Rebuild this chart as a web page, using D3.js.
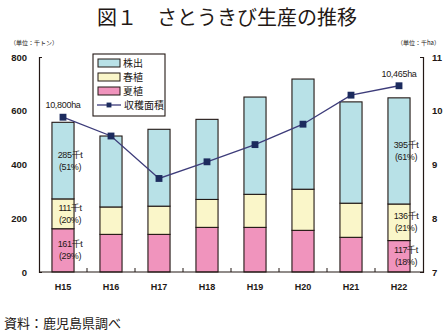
<!DOCTYPE html>
<html>
<head>
<meta charset="utf-8">
<script src="https://cdn.jsdelivr.net/npm/d3@7"></script>
<style>
  body { margin: 0; background: #fff; }
  svg { display: block; }
  text { font-family: "Liberation Sans", Arial, sans-serif; fill: #231815; }
  .jp { font-family: "Noto Sans CJK JP", sans-serif; }
</style>
</head>
<body>
<div id="chart"></div>
<script>
// data
var years = ["H15", "H16", "H17", "H18", "H19", "H20", "H21", "H22"];
var natsu = [161, 140, 140, 166, 166, 155, 129, 117];   // 夏植 (千t)
var haru  = [111, 102, 105, 104, 123, 153, 127, 136];   // 春植 (千t)
var kabu  = [285, 264, 286, 298, 362, 410, 377, 395];   // 株出 (千t)
var area  = [9.88, 9.53, 8.74, 9.05, 9.37, 9.75, 10.29, 10.465]; // 収穫面積 (千ha)
var leftTicks = [0, 200, 400, 600, 800];
var rightTicks = [7, 8, 9, 10, 11];

var seriesKeys = ["natsu", "haru", "kabu"];
var seriesNames = {natsu: "夏植", haru: "春植", kabu: "株出"};
var colors = {natsu: "#f094bd", haru: "#faf6c9", kabu: "#b8e1e7"};

// in-bar labels only on first and last bar
var barLabels = [
  {i: 0, key: "kabu", t1: "285千t", t2: "(51%)"},
  {i: 0, key: "haru", t1: "111千t", t2: "(20%)"},
  {i: 0, key: "natsu", t1: "161千t", t2: "(29%)"},
  {i: 7, key: "kabu", t1: "395千t", t2: "(61%)"},
  {i: 7, key: "haru", t1: "136千t", t2: "(21%)"},
  {i: 7, key: "natsu", t1: "117千t", t2: "(18%)"}
];
var areaLabels = [{i: 0, t: "10,800ha"}, {i: 7, t: "10,465ha"}];

var table = years.map(function(y, i) {
  return {year: y, natsu: natsu[i], haru: haru[i], kabu: kabu[i], area: area[i]};
});

var svg = d3.select("#chart").append("svg")
  .attr("width", 447)
  .attr("height", 331);

var x = d3.scaleBand().domain(years).range([39, 423])
  .paddingInner(0.54).paddingOuter(0.27);
var y = d3.scaleLinear().domain([0, 800]).range([272, 57]);
var y2 = d3.scaleLinear().domain([7, 11]).range([272, 57]);

//title
svg.append("text").attr("class", "jp")
  .attr("x", 227).attr("y", 25)
  .attr("text-anchor", "middle")
  .style("font-size", "20px")
  .text("図１　さとうきび生産の推移");

svg.append("text").attr("class", "jp")
  .attr("x", 10).attr("y", 45)
  .style("font-size", "6px")
  .text("（単位：千トン）");
svg.append("text").attr("class", "jp")
  .attr("x", 440).attr("y", 45)
  .attr("text-anchor", "end")
  .style("font-size", "6px")
  .text("（単位：千ha）");

// stacked bars
var stack = d3.stack().keys(seriesKeys)(table);

svg.append("g").selectAll("g")
  .data(stack)
  .join("g")
  .attr("fill", function(d) { return colors[d.key]; })
  .selectAll("rect")
  .data(function(d) { return d; })
  .join("rect")
  .attr("x", function(d) { return x(d.data.year); })
  .attr("y", function(d) { return y(d[1]); })
  .attr("width", x.bandwidth())
  .attr("height", function(d) { return y(d[0]) - y(d[1]); })
  .attr("stroke", "#231815")
  .attr("stroke-width", 1.1);

// labels in bars
var lab = svg.append("g").selectAll("g")
  .data(barLabels)
  .join("g")
  .attr("transform", function(d) {
    var s = stack[seriesKeys.indexOf(d.key)][d.i];
    var mid = (y(s[0]) + y(s[1])) / 2;
    return "translate(" + (x(years[d.i]) + x.bandwidth() / 2 + 7) + "," + mid + ")";
  });
lab.append("text")
  .attr("y", -3).attr("text-anchor", "middle")
  .style("font-size", "9px").style("letter-spacing", "-0.4px")
  .text(function(d) { return d.t1; });
lab.append("text")
  .attr("y", 9).attr("text-anchor", "middle")
  .style("font-size", "9px").style("letter-spacing", "-0.4px")
  .text(function(d) { return d.t2; });

// axes
var gl = svg.append("g").attr("transform", "translate(39,0)")
  .call(d3.axisLeft(y).tickValues(leftTicks).tickSizeInner(0).tickSizeOuter(-3).tickPadding(12));
var gr = svg.append("g").attr("transform", "translate(423,0)")
  .call(d3.axisRight(y2).tickValues(rightTicks).tickFormat(d3.format("d"))
    .tickSizeInner(0).tickSizeOuter(-3).tickPadding(9));
[gl, gr].forEach(function(g) {
  g.select(".domain").attr("stroke", "#231815").attr("stroke-width", 1.2);
  g.selectAll("text").style("font-size", "9.5px").style("font-weight", "bold")
    .style("font-family", "'Liberation Sans', Arial, sans-serif").attr("fill", "#231815");
});

var gx = svg.append("g").attr("transform", "translate(0,272)")
  .call(d3.axisBottom(x).tickSize(0).tickPadding(12));
gx.select(".domain").remove();
gx.selectAll("text").style("font-size", "9px").style("font-weight", "bold")
  .style("font-family", "'Liberation Sans', Arial, sans-serif").attr("fill", "#231815");
svg.append("line")
  .attr("x1", 39).attr("x2", 423).attr("y1", 272).attr("y2", 272)
  .attr("stroke", "#231815").attr("stroke-width", 1.2);
// small ticks between categories
svg.append("g").selectAll("line")
  .data(years.slice(1))
  .join("line")
  .attr("x1", function(d) { return x(d) - (x.step() - x.bandwidth()) / 2; })
  .attr("x2", function(d) { return x(d) - (x.step() - x.bandwidth()) / 2; })
  .attr("y1", 272).attr("y2", 268)
  .attr("stroke", "#231815").attr("stroke-width", 1);

// area line
var line = d3.line()
  .x(function(d) { return x(d.year) + x.bandwidth() / 2; })
  .y(function(d) { return y2(d.area); });
svg.append("path").datum(table)
  .attr("d", line)
  .attr("fill", "none")
  .attr("stroke", "#3d3c7a")
  .attr("stroke-width", 1.3);
var diamond = d3.symbol().type(d3.symbolDiamond2).size(60);
svg.append("g").selectAll("path")
  .data(table)
  .join("path")
  .attr("d", diamond)
  .attr("transform", function(d) { return "translate(" + (x(d.year) + x.bandwidth() / 2) + "," + y2(d.area) + ") rotate(45)"; })
  .attr("fill", "#1c2b5e");

svg.append("g").selectAll("text")
  .data(areaLabels)
  .join("text")
  .attr("x", function(d) { return x(years[d.i]) + x.bandwidth() / 2; })
  .attr("y", function(d) { return y2(area[d.i]) - 9; })
  .attr("text-anchor", "middle")
  .style("font-size", "9px").style("letter-spacing", "-0.3px")
  .text(function(d) { return d.t; });

// legend
var lg = svg.append("g");
lg.append("rect")
  .attr("x", 93).attr("y", 54).attr("width", 72).attr("height", 62)
  .attr("fill", "#fff").attr("stroke", "#231815").attr("stroke-width", 1.1);
var legendKeys = ["kabu", "haru", "natsu"];
legendKeys.forEach(function(k, i) {
  var cy = 63 + i * 14;
  lg.append("rect")
    .attr("x", 98).attr("y", cy - 4).attr("width", 22).attr("height", 8)
    .attr("fill", colors[k]).attr("stroke", "#231815").attr("stroke-width", 1);
  lg.append("text").attr("class", "jp")
    .attr("x", 123).attr("y", cy + 4)
    .style("font-size", "10px")
    .text(seriesNames[k]);
});
lg.append("line")
  .attr("x1", 97).attr("x2", 121).attr("y1", 105).attr("y2", 105)
  .attr("stroke", "#3d3c7a").attr("stroke-width", 1.3);
lg.append("path")
  .attr("d", d3.symbol().type(d3.symbolDiamond2).size(30))
  .attr("transform", "translate(109,105) rotate(45)")
  .attr("fill", "#1c2b5e");
lg.append("text").attr("class", "jp")
  .attr("x", 124).attr("y", 109)
  .style("font-size", "10px")
  .text("収穫面積");

// source
svg.append("text").attr("class", "jp")
  .attr("x", 4).attr("y", 328)
  .style("font-size", "13px")
  .text("資料：鹿児島県調べ");
</script>
</body>
</html>
